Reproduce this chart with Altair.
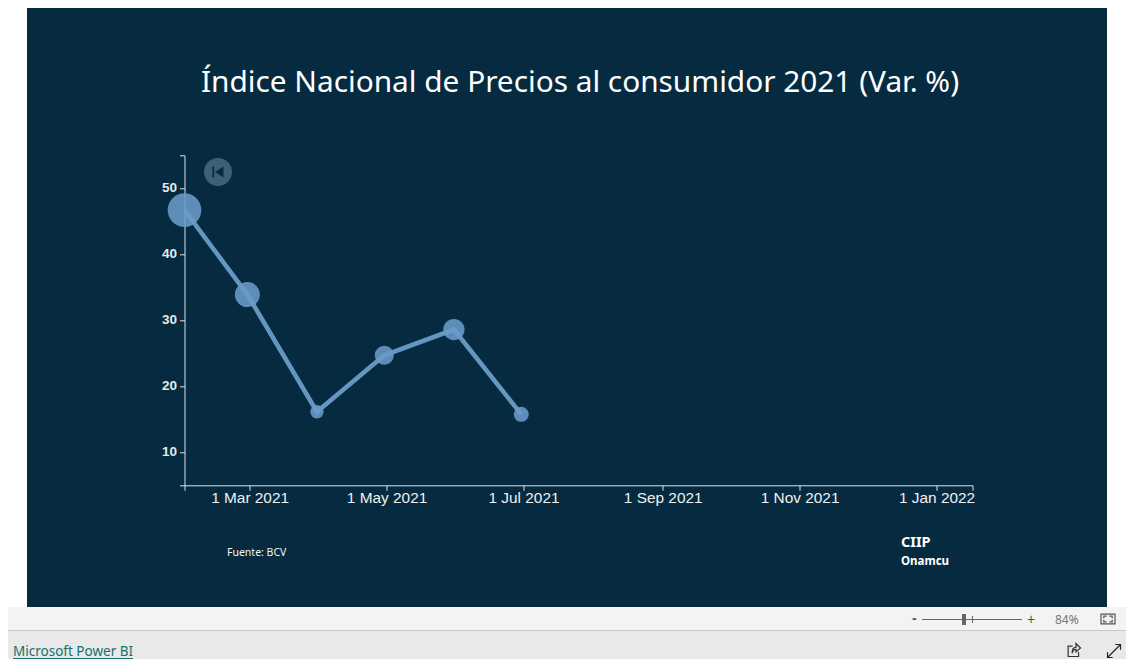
import altair as alt
import pandas as pd

# ---- data ----
fechas = ["2021-01-31", "2021-02-28", "2021-03-31", "2021-04-30", "2021-05-31", "2021-06-30"]
inpc = [46.7, 33.9, 16.15, 24.7, 28.6, 15.75]
peso = [100, 55, 15.7, 31.8, 40, 19.8]
x_ticks = ["2021-03-01", "2021-05-01", "2021-07-01", "2021-09-01", "2021-11-01", "2022-01-01"]
x_start, x_end = "2021-01-31", "2022-01-17"
y_ticks = [10, 20, 30, 40, 50]
y_start, y_end = 5, 55

titulo = "Índice Nacional de Precios al consumidor 2021 (Var. %)"
DARK = "#062B41"
BLUE = "#6A9BC8"
FONT = "Noto Sans"
ARIAL = "Liberation Sans"


def ms(s):
    return int(pd.Timestamp(s, tz="UTC").timestamp() * 1000)


# page pixel -> plot coordinates
OX, OY = 184.5, 155.3
W, H = 788, 330
def px(v):
    return v - OX
def py(v):
    return v - OY


one = pd.DataFrame({"a": [0]})
df = pd.DataFrame({"fecha": fechas, "inpc": inpc, "peso": peso})


def rect(x0, x1, y0, y1, color):
    return alt.Chart(one).mark_rect(color=color, opacity=1).encode(
        x=alt.value(px(x0)), x2=alt.value(px(x1)), y=alt.value(py(y0)), y2=alt.value(py(y1)))


def rule(x0, x1, y0, y1, color, w=1):
    return alt.Chart(one).mark_rule(color=color, strokeWidth=w).encode(
        x=alt.value(px(x0)), x2=alt.value(px(x1)), y=alt.value(py(y0)), y2=alt.value(py(y1)))


def text(s, x, y, size, color, font=FONT, weight="normal", align="left"):
    return alt.Chart(one).mark_text(text=s, fontSize=size, color=color, font=font, fontWeight=weight,
                                    align=align, baseline="alphabetic").encode(
        x=alt.value(px(x)), y=alt.value(py(y)))


def glyph(path, x, y, size, color, filled=True, w=1.2):
    kw = dict(fill=color, strokeWidth=0) if filled else dict(fill="transparent", stroke=color, strokeWidth=w)
    return alt.Chart(one).mark_point(shape=path, size=size, opacity=1, filled=filled, **kw).encode(
        x=alt.value(px(x)), y=alt.value(py(y)))


x_vals = [ms(x_start)] + [ms(t) for t in x_ticks] + [ms(x_end)]
x_label = (f"time(datum.value)=={ms(x_start)}||time(datum.value)=={ms(x_end)}?'':utcFormat(datum.value,'%-d %b %Y')")
y_label = f"datum.value=={y_start}||datum.value=={y_end}?'':datum.value"

x_enc = alt.X("fecha:T", title=None,
              scale=alt.Scale(type="utc", domain=[ms(x_start), ms(x_end)]),
              axis=alt.Axis(values=x_vals, labelExpr=x_label, grid=False, tickSize=5, tickColor="#DDE3E8",
                            domainColor="#DDE3E8", labelColor="#F0F0F0", labelFont=ARIAL, labelFontSize=15.4,
                            labelPadding=0, labelOverlap=False, labelFlush=False, tickWidth=1, domainWidth=1))
y_enc = alt.Y("inpc:Q", title=None,
              scale=alt.Scale(domain=[y_start, y_end], nice=False, zero=False),
              axis=alt.Axis(values=[y_start] + y_ticks + [y_end], labelExpr=y_label, grid=False, tickSize=5,
                            tickColor="#DDE3E8", domainColor="#DDE3E8", labelColor="#E8E8E8", labelFont=ARIAL,
                            labelFontSize=13.5, labelFontWeight="bold", labelPadding=3, labelOffset=-1,
                            tickWidth=1, domainWidth=1))

base = alt.Chart(df)
line = base.mark_line(color=BLUE, strokeWidth=4.5, opacity=0.95).encode(x=x_enc, y=y_enc)
points = base.mark_circle(color=BLUE, opacity=0.88).encode(
    x=x_enc, y=y_enc,
    size=alt.Size("peso:Q", legend=None, scale=alt.Scale(domain=[0, 100], range=[0, 1136], type="linear")))

replay = [
    alt.Chart(one).mark_circle(color="#3E5F74", size=784, opacity=1).encode(x=alt.value(px(218)), y=alt.value(py(172))),
    glyph("M-1 -1L-.72 -1L-.72 1L-1 1ZM1 -1L-.55 0L1 1Z", 218, 172, 121, "#062B41"),
]

chrome = [
    rect(0, 27, 0, 607, "#FFFFFF"),
    rect(1107, 1134, 0, 607, "#FFFFFF"),
    rect(0, 1134, 607, 630, "#F3F3F3"),
    rect(0, 1134, 630, 667, "#E9E9E9"),
    rule(0, 1134, 630.5, 630.5, "#C8C8C8", 1),
    text("Microsoft Power BI", 13, 656, 13.5, "#13716E", font=FONT),
    rule(13, 133, 658.5, 658.5, "#13716E", 1),
    text("-", 912, 623, 14, "#555555", font=ARIAL, weight="bold"),
    rule(922, 1022, 619.5, 619.5, "#666666", 1),
    rect(962, 966, 614, 625, "#666666"),
    rule(972.5, 972.5, 616, 623, "#666666", 1),
    text("+", 1027, 624, 14, "#555555", font=ARIAL),
    text("84%", 1055, 624, 12, "#777777", font=FONT),
    glyph("M-1 -.7L1 -.7L1 .7L-1 .7ZM-.6 -.1L-.6 -.4L-.2 -.4M.2 -.4L.6 -.4L.6 -.1M.6 .1L.6 .4L.2 .4M-.2 .4L-.6 .4L-.6 .1",
          1108, 619, 196, "#555555", filled=False),
    glyph("M-.2 -.6L-.9 -.6L-.9 1L.7 1L.7 .3M-.3 .5C-.3 -.1 0 -.4 .3 -.4L.3 -1L1 -.3L.3 .3L.3 -.1C0 -.1 -.2 .1 -.3 .5Z",
          1074, 650, 169, "#333333", filled=False),
    glyph("M-1 1L1 -1M.2 -1L1 -1L1 -.2M-1 .2L-1 1L-.2 1", 1114, 651, 169, "#222222", filled=False),
]

labels = [
    text(titulo, 580, 92, 29.8, "#FFFFFF", align="center"),
    text("Fuente: BCV", 227, 556, 10.5, "#F5F5EE"),
    text("CIIP", 901, 547, 14.5, "#FFFFFF", weight="bold"),
    text("Onamcu", 901, 565, 11.5, "#FFFFFF", weight="bold"),
]

chart = alt.layer(line, points, *replay, *labels, *chrome).properties(
    width=W, height=H, background=DARK,
    padding={"left": OX - 8, "top": OY - 8, "right": 1134 - 8 - OX - W, "bottom": 667 - 8 - OY - H},
    autosize=alt.AutoSizeParams(type="none", contains="content"),
).configure_view(stroke=None)

chart.save("out.html", embed_options={"renderer": "svg", "actions": False})
